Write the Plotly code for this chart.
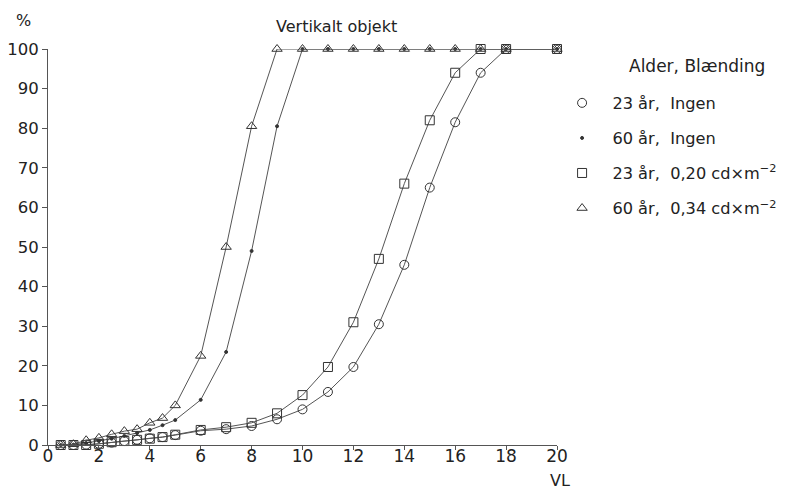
import plotly.graph_objects as go

vl = [0.5, 1, 1.5, 2, 2.5, 3, 3.5, 4, 4.5, 5, 6, 7, 8, 9, 10, 11, 12, 13, 14, 15, 16, 17, 18, 20]

y23_ingen = [0, 0, 0.1, 0.3, 0.6, 1.0, 1.3, 1.7, 2.0, 2.5, 3.6, 4.0, 4.8, 6.5, 9.0, 13.4, 19.7, 30.5, 45.5, 65, 81.5, 94, 100, 100]
y60_ingen = [0, 0.1, 0.5, 1.0, 1.6, 2.3, 3.0, 3.8, 5.0, 6.3, 11.4, 23.5, 49, 80.5, 100, 100, 100, 100, 100, 100, 100, 100, 100, 100]
y23_020 = [0, 0, 0, 0.3, 0.7, 1.0, 1.3, 1.6, 2.0, 2.6, 3.8, 4.5, 5.6, 8.0, 12.6, 19.7, 31, 47, 66, 82, 94, 100, 100, 100]
y60_034 = [0, 0.2, 1.2, 1.8, 2.7, 3.5, 4.0, 5.6, 6.8, 10, 22.5, 50, 80.5, 100, 100, 100, 100, 100, 100, 100, 100, 100, 100, 100]

series_names = ["23 år,  Ingen", "60 år,  Ingen",
                "23 år,  0,20 cd×m<sup>−2</sup>", "60 år,  0,34 cd×m<sup>−2</sup>"]
series_values = [y23_ingen, y60_ingen, y23_020, y60_034]
symbols = ["circle-open", "circle", "square-open", "triangle-up-open"]
sizes = [9, 3, 9, 9]

x_ticks = list(range(0, 21, 2))
y_ticks = list(range(0, 101, 10))

INK = "#333333"
FONT = "DejaVu Sans, Liberation Sans, Arial, sans-serif"
PAD = "\u00a0\u00a0"

fig = go.Figure()

for name, vals, sym, sz in zip(series_names, series_values, symbols, sizes):
    fig.add_trace(go.Scatter(
        x=vl, y=vals, mode="lines+markers", name=name, showlegend=False,
        line=dict(color="#555555", width=1),
        marker=dict(symbol=sym, size=sz, color=INK, line=dict(color=INK, width=1)),
        cliponaxis=False,
    ))

for i, (name, sym, sz) in enumerate(zip(series_names, symbols, sizes)):
    fig.add_trace(go.Scatter(
        x=[None], y=[None], mode="markers", name=PAD + name, legendgroup=f"g{i}",
        marker=dict(symbol=sym, size=sz, color=INK, line=dict(color=INK, width=1)),
    ))

fig.update_layout(
    width=785, height=489,
    margin=dict(l=40, r=236, t=41, b=52, autoexpand=False),
    paper_bgcolor="white", plot_bgcolor="white",
    font=dict(family=FONT, size=17, color="#222222"),
    showlegend=True,
    legend=dict(x=1.01, y=0.907, xanchor="left", yanchor="top",
                font=dict(size=16.2, color="#222222"), tracegroupgap=11,
                bgcolor="rgba(0,0,0,0)", itemsizing="trace"),
    xaxis=dict(range=[0, 20], tickvals=x_ticks, showgrid=False, zeroline=False,
               showline=True, linecolor="#555555", linewidth=1,
               ticks="outside", ticklen=4, tickcolor="#555555",
               tickfont=dict(size=17), automargin=False, ticklabelstandoff=-8),
    yaxis=dict(range=[0, 100], tickvals=y_ticks, showgrid=False, zeroline=False,
               showline=True, linecolor="#555555", linewidth=1,
               ticks="outside", ticklen=5, tickcolor="#555555",
               tickfont=dict(size=16.5), automargin=False),
    annotations=[
        dict(text="Vertikalt objekt", xref="paper", yref="paper", x=0.566, y=1.058,
             xanchor="center", yanchor="middle", showarrow=False, font=dict(size=16)),
        dict(text="%", xref="paper", yref="paper", x=-0.049, y=1.073,
             xanchor="center", yanchor="middle", showarrow=False, font=dict(size=16)),
        dict(text="VL", xref="paper", yref="paper", x=1.006, y=-0.089,
             xanchor="center", yanchor="middle", showarrow=False, font=dict(size=16)),
        dict(text="Alder, Blænding", xref="paper", yref="paper", x=1.1375, y=0.957,
             xanchor="left", yanchor="middle", showarrow=False, font=dict(size=17)),
    ],
)

fig.write_html("out.html")
